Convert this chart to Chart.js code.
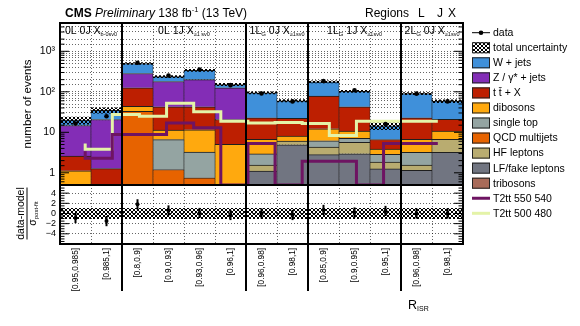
<!DOCTYPE html>
<html>
<head>
<meta charset="utf-8">
<script src="https://cdn.jsdelivr.net/npm/chart.js@4.4.0/dist/chart.umd.min.js"></script>
<style>
  html, body { margin: 0; padding: 0; background: #fff; }
</style>
</head>
<body>
<canvas id="myChart" width="580" height="326"></canvas>
<script>
const binLabels = ["[0.95,0.985]", "[0.985,1]", "[0.8,0.9]", "[0.9,0.93]", "[0.93,0.96]", "[0.96,1]",
  "[0.96,0.98]", "[0.98,1]", "[0.85,0.9]", "[0.9,0.95]", "[0.95,1]", "[0.96,0.98]", "[0.98,1]"];

// number of R_ISR bins in each lepton/jet region, left to right
const regionSizes = [2, 4, 2, 3, 2];

// background yields, bottom of the stack first
const tribosons = [0.02, 0.02, 0.05, 0.05, 0.05, 0.03, 0.1, 0.1, 0.2, 0.15, 0.05, 0.1, 0.1];
const lfFake    = [0, 0, 0, 0, 0, 0, 1.0, 4.8, 2.6, 2.8, 1.2, 1.05, 3.1];
const hfLeptons = [0, 0, 0, 0, 0, 0, 0.46, 1.2, 1.5, 2.7, 0.6, 0.41, 3.5];
const qcd       = [0, 0, 33, 1.16, 0.7, 0, 0, 0, 0, 0, 0, 0, 0];
const singleTop = [0, 0, 0, 5.4, 2.5, 0, 1.37, 0, 1.9, 1.5, 1.0, 1.66, 0];
const dibosons  = [1.1, 0, 11, 4.7, 8.3, 5.0, 3.8, 2.0, 6.0, 3.5, 1.0, 3.5, 4.0];
const ttbar     = [1.48, 1.25, 82, 31.3, 31, 15.7, 16.2, 14, 66, 32, 2.8, 16.2, 10.1];
const zJets     = [12.1, 19.4, 157, 137, 158, 105, 0, 0, 0, 0, 0, 0, 0];
const wJets     = [5.2, 14.3, 217, 57, 140, 26, 71.7, 38, 97, 60, 7.9, 67, 38];

const observed = [16.5, 25, 520, 253, 355, 146, 91, 58, 185, 109, 16, 90, 58];
const relUnc   = [0.2, 0.15, 0.05, 0.06, 0.06, 0.07, 0.06, 0.07, 0.06, 0.06, 0.2, 0.06, 0.08];

// signal benchmarks (not stacked)
const t2tt550 = [3.4, 2.3, 8.8, 8.8, 17, 12.9, 0.5, 5.3, 0.5, 1.93, 1.93, 0.5, 5.3];
const t2tt500 = [5.3, 3.8, 27.5, 25, 52, 32, 18.8, 17, 17.4, 16.4, 8.3, 18.8, 18.8];

// (data - model) / sigma_post-fit
const pulls    = [-0.9, -1.5, 1.8, 0.6, 0.1, -0.3, 0, -0.3, 0.7, 0.2, 0.5, 0, 0];
const pullErrs = [1, 1, 1, 1, 1, 1, 1, 1, 1, 1, 1, 1, 1];

const FONT = "'Liberation Sans', Arial, sans-serif";
Chart.defaults.font.family = FONT;
Chart.defaults.color = "#000";

const canvas = document.getElementById("myChart");
const ctx = canvas.getContext("2d");

function makeHatch() {
  const tile = document.createElement("canvas");
  tile.width = 4;
  tile.height = 4;
  const g = tile.getContext("2d");
  g.fillStyle = "#000";
  for (let i = 0; i < 4; i++) {
    g.fillRect(i, i, 1, 1);
    g.fillRect(3 - i, i, 1, 1);
  }
  return ctx.createPattern(tile, "repeat");
}
const hatch = makeHatch();

const stackSpec = [
  ["tribosons", tribosons, "#a96b59"],
  ["LF/fake leptons", lfFake, "#717581"],
  ["HF leptons", hfLeptons, "#b9ac70"],
  ["QCD multijets", qcd, "#e76300"],
  ["single top", singleTop, "#94a4a2"],
  ["dibosons", dibosons, "#ffa90e"],
  ["t t\u0304 + X", ttbar, "#bd1f01"],
  ["Z / \u03b3* + jets", zJets, "#832db6"],
  ["W + jets", wJets, "#3f90da"],
];

const totals = binLabels.map((_, i) => stackSpec.reduce((s, d) => s + d[1][i], 0));
const stepPoints = (vals) =>
  vals.map((v, i) => ({ x: i, y: v })).concat([{ x: vals.length, y: vals[vals.length - 1] }]);

// every bar spans its whole bin, centred on the category
const fullBin = { grouped: false, categoryPercentage: 1, barPercentage: 1, xAxisID: "x" };

const bkgSets = stackSpec.map(([label, vals, col]) => ({
  ...fullBin,
  type: "bar",
  label,
  data: vals,
  backgroundColor: col,
  borderColor: "#1e1e1e",
  borderWidth: { top: 1, left: 0.6, right: 0.6, bottom: 0 },
  borderSkipped: false,
  stack: "bkg",
  yAxisID: "y",
  order: 5,
}));

const sig550Color = "#6e1462";
const sig500Color = "#e4f3a8";

const datasets = [
  ...bkgSets,
  {
    ...fullBin,
    type: "bar",
    label: "total uncertainty",
    data: totals.map((t, i) => [t * (1 - relUnc[i]), t * (1 + relUnc[i])]),
    backgroundColor: hatch,
    borderWidth: 0,
    yAxisID: "y",
    order: 4,
  },
  {
    type: "line",
    label: "T2tt 500 480",
    data: stepPoints(t2tt500),
    xAxisID: "xs",
    yAxisID: "y",
    stepped: "after",
    borderColor: sig500Color,
    borderWidth: 3,
    pointRadius: 0,
    fill: false,
    order: 3,
  },
  {
    type: "line",
    label: "T2tt 550 540",
    data: stepPoints(t2tt550),
    xAxisID: "xs",
    yAxisID: "y",
    stepped: "after",
    borderColor: sig550Color,
    borderWidth: 3,
    pointRadius: 0,
    fill: false,
    order: 2,
  },
  {
    type: "line",
    label: "data",
    data: observed,
    xAxisID: "x",
    yAxisID: "y",
    showLine: false,
    pointRadius: 2.3,
    pointBackgroundColor: "#000",
    pointBorderWidth: 0,
    order: 1,
  },
  {
    ...fullBin,
    type: "bar",
    label: "pull band",
    data: binLabels.map(() => [-1, 1]),
    backgroundColor: hatch,
    borderWidth: 0,
    yAxisID: "yr",
    order: 4,
  },
  {
    type: "line",
    label: "pulls",
    data: pulls,
    xAxisID: "x",
    yAxisID: "yr",
    showLine: false,
    pointRadius: 2,
    pointBackgroundColor: "#000",
    pointBorderWidth: 0,
    order: 1,
  },
];

const isDecade = (v) => v >= 1 && Math.abs(Math.log10(v) - Math.round(Math.log10(v))) < 1e-9;
const decadeLabel = { 1: "1", 10: "10", 100: "10\u00b2", 1000: "10\u00b3" };
const gridCol = "rgba(0,0,0,0.6)";

function line(c, x1, y1, x2, y2) {
  c.beginPath();
  c.moveTo(x1, y1);
  c.lineTo(x2, y2);
  c.stroke();
}

// text runs: {t, size, style, dy}
function runWidth(c, parts) {
  let w = 0;
  parts.forEach((p) => {
    c.font = `${p.style || ""} ${p.size}px ${FONT}`;
    w += c.measureText(p.t).width;
  });
  return w;
}
function drawRuns(c, parts, x, y, align) {
  let cx = align === "center" ? x - runWidth(c, parts) / 2 : x;
  parts.forEach((p) => {
    c.font = `${p.style || ""} ${p.size}px ${FONT}`;
    c.fillText(p.t, cx, y + (p.dy || 0));
    cx += c.measureText(p.t).width;
  });
  return cx;
}

const frames = {
  id: "frames",
  afterDatasetsDraw(chart) {
    const c = chart.ctx;
    const { left, right } = chart.chartArea;
    const { x, y, yr } = chart.scales;
    c.save();

    // pull error bars
    c.strokeStyle = "#000";
    c.lineWidth = 2;
    pulls.forEach((v, i) => {
      const px = x.getPixelForValue(i);
      line(c, px, yr.getPixelForValue(v - pullErrs[i]), px, yr.getPixelForValue(v + pullErrs[i]));
    });

    // inner tick marks on both sides
    c.lineWidth = 1;
    y.ticks.forEach((t, i) => {
      const py = y.getPixelForTick(i);
      const len = isDecade(t.value) ? 9 : 4.5;
      line(c, left, py, left + len, py);
      line(c, right, py, right - len, py);
    });
    yr.ticks.forEach((t, i) => {
      const py = yr.getPixelForTick(i);
      const len = Math.abs(t.value % 2) < 1e-9 ? 9 : 4.5;
      line(c, left, py, left + len, py);
      line(c, right, py, right - len, py);
    });

    // panel frames
    c.lineWidth = 2;
    c.strokeRect(left, y.top, right - left, y.bottom - y.top);
    c.strokeRect(left, yr.top, right - left, yr.bottom - yr.top);

    // region separators
    let k = 0;
    regionSizes.slice(0, -1).forEach((n) => {
      k += n;
      const px = (x.getPixelForValue(k - 1) + x.getPixelForValue(k)) / 2;
      line(c, px, y.top, px, 291);
    });
    c.restore();
  },
};

const regionNames = [
  [{ t: "0L 0J X", size: 10.5 }, { t: "b-0sv0", size: 5.5, dy: 2 }],
  [{ t: "0L 1J X", size: 10.5 }, { t: "\u22651 sv0", size: 5.5, dy: 2 }],
  [{ t: "1L", size: 10.5 }, { t: "G", size: 6, dy: 2 }, { t: " 0J X", size: 10.5 }, { t: "\u22651sv0", size: 5.5, dy: 2 }],
  [{ t: "1L", size: 10.5 }, { t: "G", size: 6, dy: 2 }, { t: " 1J X", size: 10.5 }, { t: "\u22651sv0", size: 5.5, dy: 2 }],
  [{ t: "2L", size: 10.5 }, { t: "G", size: 6, dy: 2 }, { t: " 0J X", size: 10.5 }, { t: "\u22651sv0", size: 5.5, dy: 2 }],
];

const texts = {
  id: "texts",
  afterDraw(chart) {
    const c = chart.ctx;
    const { x, yr } = chart.scales;
    c.save();
    c.fillStyle = "#000";
    c.textBaseline = "alphabetic";
    c.textAlign = "left";

    // header
    let cx = drawRuns(c, [{ t: "CMS", size: 12, style: "bold" }], 65, 17);
    cx = drawRuns(c, [{ t: " Preliminary", size: 12, style: "italic" }], cx, 17);
    drawRuns(c, [
      { t: " 138 fb", size: 12 },
      { t: "-1", size: 7.5, dy: -5 },
      { t: " (13 TeV)", size: 12 },
    ], cx, 17);
    c.font = `12px ${FONT}`;
    c.fillText("Regions", 365, 17);
    c.fillText("L", 418, 17);
    c.fillText("J", 437, 17);
    c.fillText("X", 448, 17);

    // region names
    const half = (x.getPixelForValue(1) - x.getPixelForValue(0)) / 2;
    let k = 0;
    regionSizes.forEach((n, r) => {
      const x0 = x.getPixelForValue(k) - half;
      const x1 = x.getPixelForValue(k + n - 1) + half;
      drawRuns(c, regionNames[r], (x0 + x1) / 2, 33.5, "center");
      k += n;
    });

    // axis titles
    c.save();
    c.translate(0, 104);
    c.rotate(-Math.PI / 2);
    drawRuns(c, [{ t: "number of events", size: 11.5 }], 0, 30.5, "center");
    c.restore();

    c.save();
    c.translate(0, (yr.top + yr.bottom) / 2 - 1);
    c.rotate(-Math.PI / 2);
    drawRuns(c, [{ t: "data-model", size: 10.5 }], 0, 24, "center");
    c.lineWidth = 1;
    c.strokeStyle = "#000";
    line(c, -26, 27, 26, 27);
    drawRuns(c, [{ t: "\u03c3", size: 10.5 }, { t: "post-fit", size: 6, dy: 2 }], 0, 36, "center");
    c.restore();

    drawRuns(c, [{ t: "R", size: 12.5 }, { t: "ISR", size: 7, dy: 2 }], 408, 309);

    // legend
    const lx = 472, tx = 493, bw = 18, bh = 11;
    const rows = [
      { label: "data", kind: "data" },
      { label: "total uncertainty", kind: "box", fill: hatch },
      ...stackSpec.slice().reverse().map(([label, , col]) => ({ label, kind: "box", fill: col })),
      { label: "T2tt 550 540", kind: "line", col: sig550Color },
      { label: "T2tt 500 480", kind: "line", col: sig500Color },
    ];
    c.textBaseline = "middle";
    rows.forEach((r, i) => {
      const ly = 32.7 + i * 15.05;
      if (r.kind === "data") {
        c.strokeStyle = "#000";
        c.lineWidth = 1;
        line(c, lx, ly, lx + bw, ly);
        c.beginPath();
        c.arc(lx + bw / 2, ly, 2.3, 0, Math.PI * 2);
        c.fillStyle = "#000";
        c.fill();
      } else if (r.kind === "box") {
        c.fillStyle = r.fill;
        c.fillRect(lx, ly - bh / 2, bw, bh);
        c.strokeStyle = "#222";
        c.lineWidth = 1;
        c.strokeRect(lx + 0.5, ly - bh / 2 + 0.5, bw - 1, bh - 1);
      } else {
        c.strokeStyle = r.col;
        c.lineWidth = 3;
        line(c, lx, ly, lx + bw, ly);
      }
      c.fillStyle = "#000";
      drawRuns(c, [{ t: r.label, size: 10.5 }], tx, ly + 0.5);
    });
    c.restore();
  },
};

new Chart(canvas, {
  type: "bar",
  data: { labels: binLabels, datasets },
  options: {
    responsive: false,
    animation: false,
    layout: { padding: { top: 23, right: 117, left: 0, bottom: 0 } },
    plugins: { legend: { display: false }, tooltip: { enabled: false } },
    scales: {
      x: {
        type: "category",
        offset: true,
        grid: { offset: true, color: gridCol, lineWidth: 1, drawTicks: false },
        border: { display: false, dash: [1, 2] },
        ticks: { autoSkip: false, maxRotation: 90, minRotation: 90, padding: 4, font: { size: 8.2 } },
        afterFit: (s) => { s.height = 82; },
      },
      yr: {
        type: "linear",
        position: "left",
        stack: "panels",
        stackWeight: 59,
        min: -6,
        max: 5.6,
        grid: {
          color: (c) => (c.tick && Math.abs(c.tick.value % 2) < 1e-9 && Math.abs(c.tick.value) <= 4 ? gridCol : "transparent"),
          lineWidth: 1,
          drawTicks: false,
        },
        border: { display: false, dash: [1, 2] },
        ticks: {
          autoSkip: false,
          stepSize: 0.5,
          includeBounds: false,
          padding: 4,
          font: { size: 9 },
          callback: (v) =>
            Math.abs(v % 2) < 1e-9 && Math.abs(v) <= 4 ? (v < 0 ? "\u2212" + -v : String(v)) : "",
        },
        afterFit: (s) => { s.width = 60; },
      },
      y: {
        type: "logarithmic",
        position: "left",
        stack: "panels",
        stackWeight: 162,
        min: 0.5,
        max: 5000,
        grid: { color: gridCol, lineWidth: 1, drawTicks: false },
        border: { display: false, dash: [1, 2] },
        ticks: {
          autoSkip: false,
          padding: 5,
          font: { size: 10.5 },
          callback: (v) => (isDecade(v) ? decadeLabel[Math.round(v)] : ""),
        },
        afterFit: (s) => { s.width = 60; },
      },
      xs: { type: "linear", min: 0, max: 13, display: false },
    },
  },
  plugins: [frames, texts],
});
</script>
</body>
</html>
